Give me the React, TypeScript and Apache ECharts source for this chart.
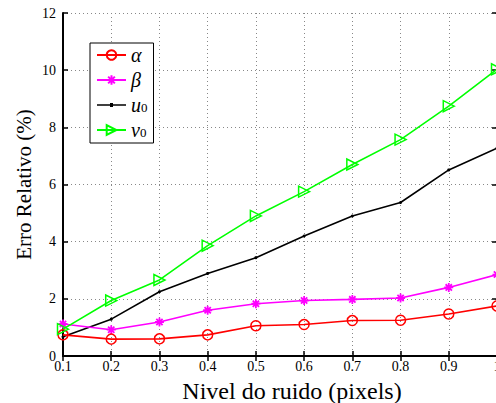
import React, { useEffect, useRef } from "react";
import * as echarts from "echarts";

const categories = ["0.1", "0.2", "0.3", "0.4", "0.5", "0.6", "0.7", "0.8", "0.9", "1"];
const alphaValues = [0.74, 0.59, 0.6, 0.74, 1.06, 1.1, 1.24, 1.25, 1.47, 1.75];
const betaValues = [1.12, 0.92, 1.19, 1.6, 1.83, 1.94, 1.98, 2.03, 2.4, 2.85];
const u0Values = [0.67, 1.29, 2.25, 2.89, 3.44, 4.2, 4.9, 5.37, 6.51, 7.27];
const v0Values = [0.94, 1.94, 2.66, 3.86, 4.9, 5.75, 6.7, 7.57, 8.74, 10.03];
const seriesNames = ["α", "β", "u0", "v0"];
const xTitle = "Nivel do ruido (pixels)";
const yTitle = "Erro Relativo (%)";

const FONT = "'Liberation Serif', 'Times New Roman', Times, serif";
const ASTERISK = "path://M5,0L5,10M0,5L10,5M1.5,1.5L8.5,8.5M1.5,8.5L8.5,1.5";
const LINE_DOT_ICON = "path://M0,1.2h29v1.6h-29z M13,0h3v4h-3z";

export default function App() {
  const ref = useRef<HTMLDivElement>(null);
  useEffect(() => {
    if (!ref.current) return;
    const chart = echarts.init(ref.current, undefined, { renderer: "svg" });
    const frameAxisLine = { show: true, lineStyle: { color: "#000", width: 2 } };
    const tick = { show: true, inside: true, length: 5, lineStyle: { color: "#000", width: 1.5 } };
    const legendLabels: Record<string, string> = {
      "α": "{i|α}",
      "β": "{i|β}",
      u0: "{i|u}{s|0}",
      v0: "{i|v}{s|0}",
    };
    chart.setOption({
      animation: false,
      backgroundColor: "#fff",
      textStyle: { fontFamily: FONT },
      grid: { left: 63, top: 13, width: 434, bottom: 47, outerBoundsMode: "none", containLabel: false },
      legend: {
        left: 90,
        top: 43,
        orient: "vertical",
        data: [
          { name: seriesNames[0] },
          { name: seriesNames[1] },
          { name: seriesNames[2], icon: LINE_DOT_ICON },
          { name: seriesNames[3] },
        ],
        itemWidth: 29,
        itemHeight: 12,
        itemGap: 5,
        padding: [2, 6, 3, 6],
        borderColor: "#000",
        borderWidth: 1,
        backgroundColor: "#fff",
        borderRadius: 0,
        formatter: (name: string) => legendLabels[name] ?? name,
        textStyle: {
          color: "#000",
          fontFamily: FONT,
          rich: {
            i: { fontFamily: FONT, fontStyle: "italic", fontSize: 20, lineHeight: 18, color: "#000" },
            s: { fontFamily: FONT, fontSize: 13, lineHeight: 10, verticalAlign: "bottom", color: "#000" },
          },
        },
      },
      xAxis: [
        {
          type: "category",
          data: categories,
          boundaryGap: false,
          name: xTitle,
          nameLocation: "middle",
          nameGap: 23,
          nameMoveOverlap: false,
          nameTextStyle: { fontFamily: FONT, fontSize: 24, color: "#000", padding: [0, 0, 0, 24] },
          axisLine: frameAxisLine,
          axisTick: tick,
          axisLabel: { fontFamily: FONT, fontSize: 14, color: "#000", margin: 3 },
          splitLine: { show: true, lineStyle: { color: "#888", type: [1, 3], width: 1 } },
        },
        {
          type: "category",
          data: categories,
          boundaryGap: false,
          position: "top",
          axisLine: frameAxisLine,
          axisTick: tick,
          axisLabel: { show: false },
          splitLine: { show: false },
        },
      ],
      yAxis: [
        {
          type: "value",
          min: 0,
          max: 12,
          interval: 2,
          name: yTitle,
          nameLocation: "middle",
          nameGap: 29,
          nameMoveOverlap: false,
          nameTextStyle: { fontFamily: FONT, fontSize: 21, color: "#000" },
          axisLine: frameAxisLine,
          axisTick: tick,
          axisLabel: { fontFamily: FONT, fontSize: 14, color: "#000", margin: 7 },
          splitLine: { show: true, lineStyle: { color: "#888", type: [1, 3], width: 1 } },
        },
        {
          type: "value",
          min: 0,
          max: 12,
          interval: 2,
          position: "right",
          axisLine: frameAxisLine,
          axisTick: tick,
          axisLabel: { show: false },
          splitLine: { show: false },
        },
      ],
      series: [
        {
          name: seriesNames[0],
          type: "line",
          data: alphaValues,
          symbol: "circle",
          symbolSize: 10,
          lineStyle: { color: "#ff0000", width: 1.6 },
          itemStyle: { color: "rgba(255,255,255,0)", borderColor: "#ff0000", borderWidth: 1.5 },
          z: 4,
        },
        {
          name: seriesNames[1],
          type: "line",
          data: betaValues,
          symbol: ASTERISK,
          symbolSize: 9,
          lineStyle: { color: "#ff00ff", width: 1.6 },
          itemStyle: { color: "#ff00ff", borderColor: "#ff00ff", borderWidth: 1.8 },
          z: 3,
        },
        {
          name: seriesNames[2],
          type: "line",
          data: u0Values,
          symbol: "circle",
          symbolSize: 3,
          lineStyle: { color: "#000", width: 1.6 },
          itemStyle: { color: "#000" },
          z: 2,
        },
        {
          name: seriesNames[3],
          type: "line",
          data: v0Values,
          symbol: "triangle",
          symbolRotate: -90,
          symbolSize: 11,
          lineStyle: { color: "#00ff00", width: 1.6 },
          itemStyle: { color: "rgba(255,255,255,0)", borderColor: "#00ff00", borderWidth: 1.5 },
          z: 5,
        },
      ],
    });
    return () => chart.dispose();
  }, []);
  return (
    <div
      ref={ref}
      style={{ position: "fixed", left: 0, top: 0, width: 496, height: 403 }}
    />
  );
}
